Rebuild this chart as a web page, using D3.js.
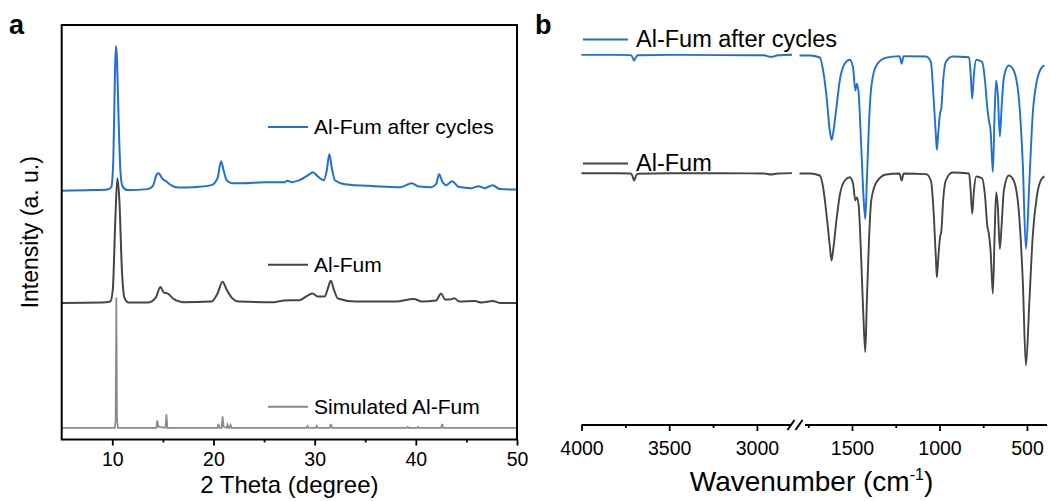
<!DOCTYPE html>
<html>
<head>
<meta charset="utf-8">
<script src="https://cdn.jsdelivr.net/npm/d3@7"></script>
<style>
  html, body { margin: 0; padding: 0; background: #ffffff; }
  svg { display: block; font-family: Arial, "Liberation Sans", Helvetica, sans-serif; }
</style>
</head>
<body>
<svg id="fig" width="1051" height="501"></svg>
<script>
// ---------- Panel a: powder XRD patterns (2θ in degrees, intensity in a.u., stacked) ----------
const xrdNames = ["Al-Fum after cycles", "Al-Fum", "Simulated Al-Fum"];

const xrdAfterCycles = [
  [5, 62.6], [8, 62.75], [9.5, 62.9], [9.9, 63.5], [10.1, 70.25], [10.25, 90.25], [10.35, 99],
  [10.45, 96.5], [10.6, 82.75], [10.8, 67.75], [11.0, 63.75], [11.5, 62.75], [13.5, 63],
  [14.0, 63.75], [14.4, 66.75], [14.6, 67], [14.9, 65.75], [15.3, 65], [15.8, 64], [16.5, 63.4],
  [18, 63.5], [19.8, 64], [20.4, 65.75], [20.75, 70], [21.0, 67.75], [21.3, 65.25], [21.8, 64.5],
  [23, 64.5], [25, 64.75], [27, 64.75], [27.3, 65.1], [27.7, 64.75], [28.5, 65.25], [29.5, 66.75],
  [29.8, 67.25], [30.4, 66], [30.9, 65.25], [31.2, 67.75], [31.45, 71.75], [31.7, 68.25],
  [32.0, 65.25], [33, 64.25], [36, 63.75], [38.5, 63.5], [39.6, 64.5], [40.2, 63.75], [41.5, 63.5],
  [42.0, 64.25], [42.3, 66.75], [42.6, 65], [43.0, 64], [43.6, 65], [44.2, 63.6], [45.5, 63.25],
  [46.2, 63.75], [46.8, 63.25], [47.6, 64], [48.3, 63], [50, 62.9]
];

const xrdFresh = [
  [5, 34.4], [9, 34.5], [9.8, 34.75], [10.05, 37.75], [10.3, 55.25], [10.5, 65.75], [10.7, 60.25],
  [10.95, 42.75], [11.2, 35.75], [11.6, 34.5], [13.5, 34.5], [14.3, 35.75], [14.75, 38.4],
  [15.1, 37], [15.5, 36.75], [16, 35.5], [17, 34.6], [19.8, 34.75], [20.4, 36.75], [20.9, 39.75],
  [21.3, 37.75], [21.8, 35.75], [22.5, 34.75], [26, 34.6], [27, 35], [28.5, 35.1], [29.3, 36.25],
  [29.8, 36.75], [30.3, 36], [31.0, 36], [31.3, 38], [31.6, 40], [31.9, 37.75], [32.3, 35.5],
  [34, 34.75], [38, 34.75], [39.8, 35.4], [40.6, 34.75], [42.0, 35], [42.5, 36.75], [42.9, 35.25],
  [43.4, 35.25], [43.8, 35.6], [44.3, 34.75], [45.8, 34.9], [46.5, 34.5], [47.6, 34.9],
  [48.3, 34.4], [50, 34.4]
];

const xrdSimulated = [
  [5, 3], [10.25, 3], [10.33, 5], [10.4, 35.75], [10.47, 5], [10.55, 3], [14.35, 3], [14.45, 4.9],
  [14.55, 3.3], [15.25, 3], [15.35, 6.4], [15.45, 3], [20.4, 3], [20.5, 4], [20.6, 3], [20.8, 3],
  [20.9, 5.9], [21.0, 3.3], [21.3, 3], [21.4, 3.8], [21.5, 3], [21.6, 3], [21.7, 3.7], [21.8, 3],
  [29.2, 3], [29.3, 3.5], [29.4, 3], [30.1, 3], [30.2, 3.5], [30.3, 3], [31.5, 3], [31.6, 4],
  [31.7, 3], [39.1, 3], [39.2, 3.25], [39.3, 3], [40.1, 3], [40.2, 3.25], [40.3, 3], [42.5, 3],
  [42.6, 4], [42.7, 3], [50, 3]
];

const xrdTicks = [10, 20, 30, 40, 50];
const xrdMinorTicks = [15, 25, 35, 45];

// ---------- Panel b: FTIR spectra (wavenumber in cm-1, transmittance in a.u., broken axis) ----------
const irNames = ["Al-Fum after cycles", "Al-Fum"];

const irAfterHigh = [
  [4000, 92.4], [3800, 92.4], [3720, 92.35], [3710, 91.9], [3700, 91], [3690, 91.8], [3680, 92.3],
  [3500, 92.4], [3200, 92.35], [2960, 92.3], [2920, 91.9], [2880, 92.3], [2800, 92.45]
];
const irFreshHigh = [
  [4000, 62.8], [3800, 62.8], [3720, 62.75], [3710, 62.2], [3700, 61], [3690, 62.1], [3680, 62.7],
  [3500, 62.8], [3200, 62.8], [2960, 62.75], [2920, 62.5], [2880, 62.75], [2800, 62.85]
];

const irAfterLow = [
  [1800, 92.25], [1740, 92.25], [1684, 91.75], [1665, 88.5], [1645, 81.8], [1627, 73.5],
  [1617, 71.2], [1608, 72.75], [1589, 79.3], [1570, 86], [1541, 90.25], [1513, 91.2],
  [1494, 89.3], [1481, 83.5], [1472, 85.2], [1462, 82.75], [1447, 69.3], [1434, 56.8],
  [1424, 51.4], [1415, 61], [1403, 75.25], [1390, 84.3], [1361, 89.75], [1305, 91.7],
  [1229, 92.1], [1216, 90.2], [1205, 92.1], [1077, 92], [1049, 90.6], [1034, 81.8],
  [1020, 71.8], [1015, 68.7], [1006, 73.5], [997, 77.7], [989, 79.3], [979, 86], [964, 90.6],
  [926, 92], [831, 91.8], [822, 87.7], [813, 81.4], [803, 87.7], [790, 91.2], [756, 90.6],
  [740, 86], [727, 79.3], [718, 76], [708, 73.5], [695, 63.1], [685, 77.7], [676, 86],
  [667, 82.7], [655, 72], [645, 79.3], [632, 86.8], [604, 89.75], [576, 88.5], [547, 81.8],
  [524, 65.2], [506, 43.9], [486, 61], [467, 77.7], [443, 86], [415, 89.3], [400, 89.75]
];
const irFreshLow = [
  [1800, 62.75], [1740, 62.75], [1684, 62.25], [1665, 59.3], [1645, 52.25], [1627, 44.75],
  [1617, 41], [1608, 43.5], [1589, 51], [1570, 57.25], [1541, 61], [1513, 61.8], [1494, 60.25],
  [1481, 56], [1472, 56.75], [1462, 54.75], [1447, 41], [1434, 26], [1424, 18.1], [1415, 31],
  [1403, 46], [1390, 56], [1361, 60.5], [1305, 62.5], [1229, 62.75], [1216, 61], [1205, 62.75],
  [1077, 62.6], [1049, 61], [1034, 53.5], [1020, 41], [1015, 36.8], [1006, 42.25], [997, 46.75],
  [989, 48.5], [979, 56], [964, 61], [926, 63], [831, 62.75], [822, 58.5], [813, 52.7],
  [803, 58.5], [790, 62], [756, 61.5], [740, 57.25], [727, 49.75], [718, 47.7], [708, 43.5],
  [695, 32.7], [685, 47.25], [676, 58.1], [667, 54.75], [655, 43.9], [645, 49.75], [632, 58.5],
  [604, 62.25], [576, 61], [547, 53.5], [524, 36], [506, 14.75], [486, 31], [467, 47.25],
  [443, 57.25], [415, 61.5], [400, 62]
];

const irTicksHigh = [4000, 3500, 3000];
const irTicksLow = [1500, 1000, 500];
const irMinorHigh = [3750, 3250];
const irMinorLow = [1750, 1250, 750];

// ---------- Styling ----------
const BLUE = "#1f6fd8";
const DARK = "#454545";
const LIGHT = "#8a8a8a";
const plainInt = d3.format("d");

const svg = d3.select("#fig");

// ================= Panel a =================
const xA = d3.scaleLinear().domain([5, 50]).range([61.7, 517]);
const yA = d3.scaleLinear().domain([0, 100]).range([439.8, 41.9]);
const frameTop = 25, frameBottom = 439.5;

const gA = svg.append("g");

const smoothA = d3.line().x(d => xA(d[0])).y(d => yA(d[1])).curve(d3.curveMonotoneX);
const sharpA = d3.line().x(d => xA(d[0])).y(d => yA(d[1]));

gA.append("path").datum(xrdSimulated).attr("d", sharpA)
  .attr("fill", "none").attr("stroke", LIGHT).attr("stroke-width", 1.7);
gA.append("path").datum(xrdFresh).attr("d", smoothA)
  .attr("fill", "none").attr("stroke", DARK).attr("stroke-width", 2);
gA.append("path").datum(xrdAfterCycles).attr("d", smoothA)
  .attr("fill", "none").attr("stroke", BLUE).attr("stroke-width", 2);

// frame
gA.append("rect")
  .attr("x", xA(5)).attr("y", frameTop)
  .attr("width", xA(50) - xA(5)).attr("height", frameBottom - frameTop)
  .attr("fill", "none").attr("stroke", "#000").attr("stroke-width", 2);

// bottom axis: major ticks with labels, minor ticks without
const axA = gA.append("g").attr("transform", `translate(0,${frameBottom})`)
  .call(d3.axisBottom(xA).tickValues(xrdTicks).tickSize(6).tickSizeOuter(0)
    .tickPadding(7).tickFormat(plainInt));
axA.select(".domain").remove();
axA.selectAll(".tick line").attr("stroke", "#000").attr("stroke-width", 1.8);
axA.selectAll(".tick text").attr("font-size", 19.5).attr("fill", "#000")
  .attr("font-family", "Arial, 'Liberation Sans', sans-serif");
const axAm = gA.append("g").attr("transform", `translate(0,${frameBottom})`)
  .call(d3.axisBottom(xA).tickValues(xrdMinorTicks).tickSize(3).tickSizeOuter(0).tickFormat(""));
axAm.select(".domain").remove();
axAm.selectAll(".tick line").attr("stroke", "#000").attr("stroke-width", 1.8);

// axis titles
gA.append("text").attr("x", (xA(5) + xA(50)) / 2).attr("y", 493)
  .attr("text-anchor", "middle").attr("font-size", 24).text("2 Theta (degree)");
gA.append("text")
  .attr("transform", `translate(37.5,${(frameTop + frameBottom) / 2}) rotate(-90)`)
  .attr("text-anchor", "middle").attr("font-size", 23).text("Intensity (a. u.)");

// legend entries next to each pattern
const legendA = [
  { name: xrdNames[0], color: BLUE, y: 127 },
  { name: xrdNames[1], color: DARK, y: 264.7 },
  { name: xrdNames[2], color: LIGHT, y: 406.8 }
];
legendA.forEach(l => {
  gA.append("line").attr("x1", 268).attr("x2", 308).attr("y1", l.y).attr("y2", l.y)
    .attr("stroke", l.color).attr("stroke-width", 2);
  gA.append("text").attr("x", 314).attr("y", l.y + 7).attr("font-size", 21)
    .attr("fill", "#000").text(l.name);
});

// panel letter
svg.append("text").attr("x", 9).attr("y", 34).attr("font-size", 27)
  .attr("font-weight", "bold").text("a");

// ================= Panel b =================
const xBHigh = d3.scaleLinear().domain([4000, 2800]).range([581.5, 792]);
const xBLow = d3.scaleLinear().domain([1800, 385]).range([799.5, 1047.1]);
const yB = d3.scaleLinear().domain([0, 100]).range([424.5, 24.5]);
const axisYB = 425;

const gB = svg.append("g");

const lineHigh = d3.line().x(d => xBHigh(d[0])).y(d => yB(d[1])).curve(d3.curveMonotoneX);
const lineLow = d3.line().x(d => xBLow(d[0])).y(d => yB(d[1])).curve(d3.curveMonotoneX);

[[irFreshHigh, lineHigh, DARK], [irFreshLow, lineLow, DARK],
 [irAfterHigh, lineHigh, BLUE], [irAfterLow, lineLow, BLUE]].forEach(([data, gen, color]) => {
  gB.append("path").datum(data).attr("d", gen)
    .attr("fill", "none").attr("stroke", color).attr("stroke-width", 1.9);
});

// broken bottom axis
gB.append("line").attr("x1", xBHigh(4000)).attr("x2", 791).attr("y1", axisYB).attr("y2", axisYB)
  .attr("stroke", "#000").attr("stroke-width", 2);
gB.append("line").attr("x1", 805).attr("x2", xBLow(385)).attr("y1", axisYB).attr("y2", axisYB)
  .attr("stroke", "#000").attr("stroke-width", 2);
[791, 799].forEach(c => {
  gB.append("line").attr("x1", c - 3.5).attr("y1", axisYB + 5).attr("x2", c + 3.5).attr("y2", axisYB - 5)
    .attr("stroke", "#000").attr("stroke-width", 2);
});

function irAxis(scale, major, minor) {
  const a = gB.append("g").attr("transform", `translate(0,${axisYB})`)
    .call(d3.axisBottom(scale).tickValues(major).tickSize(6).tickSizeOuter(0)
      .tickPadding(10.5).tickFormat(plainInt));
  a.select(".domain").remove();
  a.selectAll(".tick line").attr("stroke", "#000").attr("stroke-width", 1.8);
  a.selectAll(".tick text").attr("font-size", 19.5).attr("fill", "#000")
    .attr("font-family", "Arial, 'Liberation Sans', sans-serif");
  const m = gB.append("g").attr("transform", `translate(0,${axisYB})`)
    .call(d3.axisBottom(scale).tickValues(minor).tickSize(3).tickSizeOuter(0).tickFormat(""));
  m.select(".domain").remove();
  m.selectAll(".tick line").attr("stroke", "#000").attr("stroke-width", 1.8);
}
irAxis(xBHigh, irTicksHigh, irMinorHigh);
irAxis(xBLow, irTicksLow, irMinorLow);

// axis title with superscript
const tB = gB.append("text").attr("x", 811.5).attr("y", 491)
  .attr("text-anchor", "middle").attr("font-size", 28);
tB.append("tspan").text("Wavenumber (cm");
tB.append("tspan").attr("font-size", 16).attr("dy", -11).text("-1");
tB.append("tspan").attr("dy", 11).text(")");

// legend entries above each spectrum
const legendB = [
  { name: irNames[0], color: BLUE, y: 39.5 },
  { name: irNames[1], color: DARK, y: 163.5 }
];
legendB.forEach(l => {
  gB.append("line").attr("x1", 583).attr("x2", 628).attr("y1", l.y).attr("y2", l.y)
    .attr("stroke", l.color).attr("stroke-width", 2);
  gB.append("text").attr("x", 636).attr("y", l.y + 7.5).attr("font-size", 23.5)
    .attr("fill", "#000").text(l.name);
});

svg.append("text").attr("x", 535).attr("y", 34).attr("font-size", 27)
  .attr("font-weight", "bold").text("b");
</script>
</body>
</html>
